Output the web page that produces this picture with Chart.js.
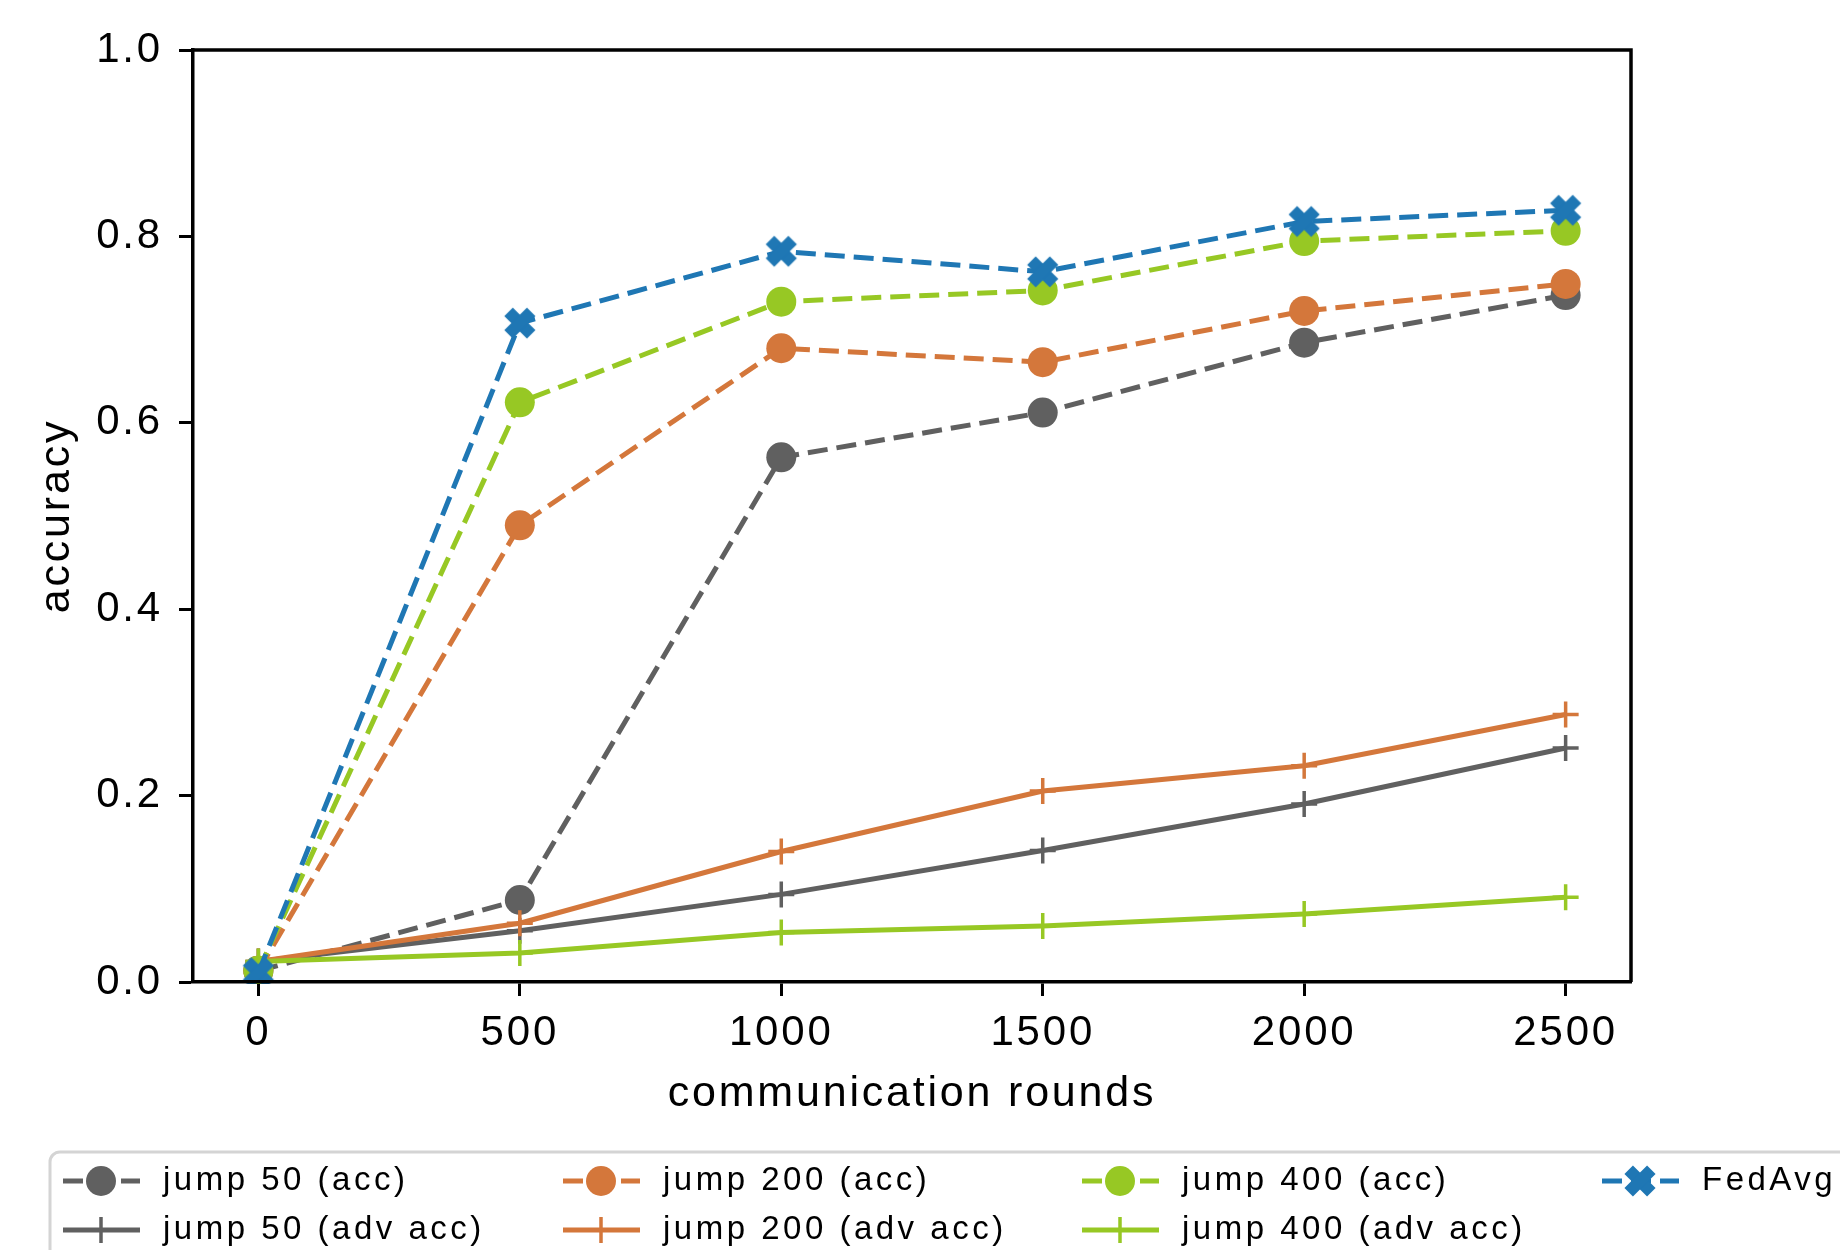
<!DOCTYPE html>
<html>
<head>
<meta charset="utf-8">
<script src="https://cdn.jsdelivr.net/npm/chart.js@4.4.1/dist/chart.umd.min.js"></script>
<style>
  html, body { margin: 0; padding: 0; background: #fff; }
  #chart { display: block; }
</style>
</head>
<body>
<canvas id="chart" width="1840" height="1250"></canvas>
<script>
/* data */
const rounds = [0, 500, 1000, 1500, 2000, 2500];
const jump50Acc  = [0.012, 0.088, 0.563, 0.611, 0.686, 0.737];
const jump50Adv  = [0.022, 0.055, 0.094, 0.141, 0.191, 0.251];
const jump200Acc = [0.012, 0.490, 0.680, 0.665, 0.720, 0.749];
const jump200Adv = [0.022, 0.063, 0.140, 0.205, 0.232, 0.287];
const jump400Acc = [0.012, 0.622, 0.730, 0.742, 0.795, 0.806];
const jump400Adv = [0.022, 0.031, 0.053, 0.060, 0.073, 0.091];
const fedAvgAcc  = [0.010, 0.707, 0.784, 0.762, 0.816, 0.828];

const xTicks = [0, 500, 1000, 1500, 2000, 2500];
const yTicks = [0, 0.2, 0.4, 0.6, 0.8, 1.0];

const grey = '#606060';
const orange = '#d4773b';
const green = '#97c824';
const blue = '#1f77b4';
const fontFamily = '"Liberation Sans", Arial, Helvetica, sans-serif';

// filled X marker (like matplotlib 'X')
function makeXMarker(color) {
    const c = document.createElement('canvas');
    c.width = 36;
    c.height = 36;
    const g = c.getContext('2d');
    g.translate(18, 18);
    g.rotate(Math.PI / 4);
    g.fillStyle = color;
    g.fillRect(-16, -6, 32, 12);
    g.fillRect(-6, -16, 12, 32);
    return c;
}
const xMarker = makeXMarker(blue);

const toPoints = (ys) => rounds.map((r, i) => ({ x: r, y: ys[i] }));

function accLine(label, ys, color, marker) {
    return {
        label: label,
        data: toPoints(ys),
        borderColor: color,
        backgroundColor: color,
        borderWidth: 5,
        borderDash: [20, 9],
        pointStyle: marker || 'circle',
        pointRadius: 15,
        pointBorderWidth: 0,
        pointBackgroundColor: color,
        clip: 2
    };
}

function advLine(label, ys, color) {
    return {
        label: label,
        data: toPoints(ys),
        borderColor: color,
        backgroundColor: color,
        borderWidth: 5,
        pointStyle: 'cross',
        pointRadius: 13,
        pointBorderWidth: 3.5,
        pointBorderColor: color,
        clip: 2
    };
}

const datasets = [
    accLine('jump 50 (acc)', jump50Acc, grey),
    advLine('jump 50 (adv acc)', jump50Adv, grey),
    accLine('jump 200 (acc)', jump200Acc, orange),
    advLine('jump 200 (adv acc)', jump200Adv, orange),
    accLine('jump 400 (acc)', jump400Acc, green),
    advLine('jump 400 (adv acc)', jump400Adv, green),
    accLine('FedAvg', fedAvgAcc, blue, xMarker)
];
// later series drawn on top
datasets.forEach((ds, i) => { ds.order = datasets.length - i; });

// top + right spines, letter spacing
const framePlugin = {
    id: 'frame',
    beforeDraw(chart) {
        chart.ctx.letterSpacing = '2.8px';
    },
    afterDatasetsDraw(chart) {
        const { ctx, chartArea: a } = chart;
        ctx.save();
        ctx.strokeStyle = '#000';
        ctx.lineWidth = 3.5;
        ctx.beginPath();
        ctx.moveTo(a.left, a.top);
        ctx.lineTo(a.right, a.top);
        ctx.lineTo(a.right, a.bottom);
        ctx.stroke();
        ctx.restore();
    }
};

// matplotlib-style legend, 4 columns
const legendCols = [63, 563, 1082, 1602];
const legendRows = [1181, 1230];
const legendPlugin = {
    id: 'mplLegend',
    afterDraw(chart) {
        const ctx = chart.ctx;
        ctx.save();
        ctx.beginPath();
        ctx.roundRect(50, 1152, 1860, 150, 10);
        ctx.fillStyle = 'rgba(255,255,255,0.8)';
        ctx.fill();
        ctx.lineWidth = 3;
        ctx.strokeStyle = '#d4d4d4';
        ctx.stroke();

        ctx.font = '33px ' + fontFamily;
        ctx.letterSpacing = '3.5px';
        ctx.textBaseline = 'middle';
        ctx.textAlign = 'left';
        chart.data.datasets.forEach((ds, i) => {
            const x0 = legendCols[Math.floor(i / 2)];
            const y = legendRows[i % 2];
            const cx = x0 + 38;
            ctx.strokeStyle = ds.borderColor;
            ctx.fillStyle = ds.borderColor;
            ctx.lineWidth = ds.borderWidth;
            ctx.setLineDash(ds.borderDash || []);
            ctx.beginPath();
            ctx.moveTo(x0, y);
            ctx.lineTo(x0 + 77, y);
            ctx.stroke();
            ctx.setLineDash([]);
            if (ds.pointStyle === 'circle') {
                ctx.beginPath();
                ctx.arc(cx, y, ds.pointRadius, 0, Math.PI * 2);
                ctx.fill();
            } else if (ds.pointStyle === 'cross') {
                ctx.lineWidth = ds.pointBorderWidth;
                ctx.beginPath();
                ctx.moveTo(cx, y - ds.pointRadius);
                ctx.lineTo(cx, y + ds.pointRadius);
                ctx.moveTo(cx - ds.pointRadius, y);
                ctx.lineTo(cx + ds.pointRadius, y);
                ctx.stroke();
            } else {
                const img = ds.pointStyle;
                ctx.drawImage(img, cx - img.width / 2, y - img.height / 2);
            }
            ctx.fillStyle = '#000';
            ctx.fillText(ds.label, x0 + 100, y);
        });
        ctx.restore();
    }
};

const tickFont = { family: fontFamily, size: 42 };

new Chart(document.getElementById('chart'), {
    type: 'line',
    data: { datasets: datasets },
    plugins: [framePlugin, legendPlugin],
    options: {
        responsive: false,
        animation: false,
        events: [],
        layout: { padding: { top: 50, right: 209, left: 0, bottom: 0 } },
        plugins: {
            legend: { display: false },
            tooltip: { enabled: false }
        },
        scales: {
            x: {
                type: 'linear',
                min: -125,
                max: 2625,
                afterBuildTicks: (s) => { s.ticks = xTicks.map(v => ({ value: v })); },
                afterFit: (s) => { s.height = 268; },
                ticks: {
                    color: '#000',
                    font: tickFont,
                    padding: 12,
                    maxRotation: 0,
                    autoSkip: false,
                    callback: (v) => String(v)
                },
                grid: {
                    display: true,
                    drawOnChartArea: false,
                    drawTicks: true,
                    tickLength: 14,
                    tickWidth: 3,
                    tickColor: '#000'
                },
                border: { display: true, color: '#000', width: 3.5, z: 1 },
                title: {
                    display: true,
                    text: 'communication rounds',
                    color: '#000',
                    font: { family: fontFamily, size: 43, lineHeight: 1.2 },
                    padding: { top: 0, bottom: 130 }
                }
            },
            y: {
                type: 'linear',
                min: 0,
                max: 1,
                afterBuildTicks: (s) => { s.ticks = yTicks.map(v => ({ value: v })); },
                afterFit: (s) => { s.width = 193; },
                ticks: {
                    color: '#000',
                    font: tickFont,
                    padding: 16,
                    autoSkip: false,
                    callback: (v) => v.toFixed(1)
                },
                grid: {
                    display: true,
                    drawOnChartArea: false,
                    drawTicks: true,
                    tickLength: 14,
                    tickWidth: 3,
                    tickColor: '#000'
                },
                border: { display: true, color: '#000', width: 3.5, z: 1 },
                title: {
                    display: true,
                    text: 'accuracy',
                    color: '#000',
                    font: { family: fontFamily, size: 43, lineHeight: 1.2 },
                    padding: { top: 31, bottom: 0 }
                }
            }
        }
    }
});
</script>
</body>
</html>
